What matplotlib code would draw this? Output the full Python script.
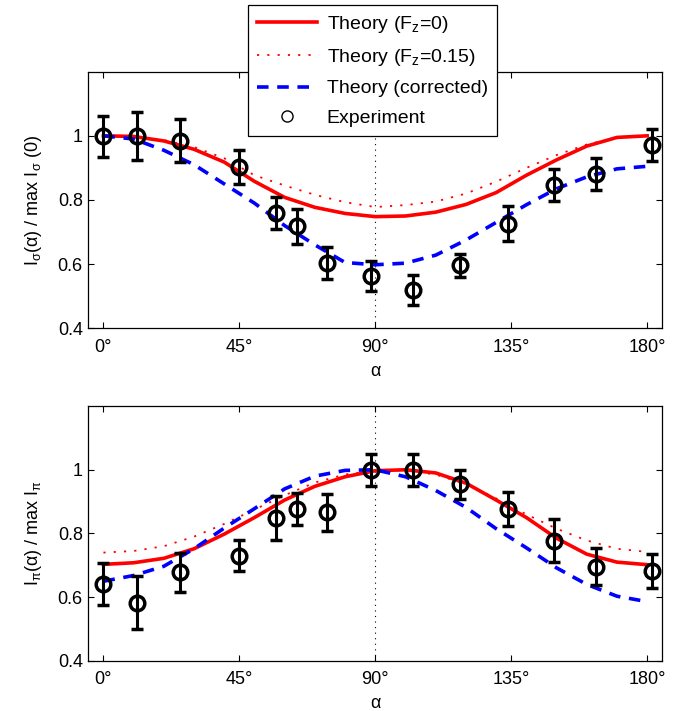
import numpy as np
import matplotlib
matplotlib.use('Agg')
import matplotlib.pyplot as plt
from matplotlib.lines import Line2D

plt.rcParams['font.family'] = ['Liberation Sans', 'DejaVu Sans']
plt.rcParams['mathtext.fontset'] = 'custom'
plt.rcParams['mathtext.rm'] = 'Liberation Sans'
plt.rcParams['mathtext.it'] = 'Liberation Sans:italic'
plt.rcParams['mathtext.default'] = 'regular'

# theory curves, every 10 degrees
alpha_th = [0, 10, 20, 30, 40, 50, 60, 70, 80, 90,
            100, 110, 120, 130, 140, 150, 160, 170, 180]

sig_f0 = [1.000, 0.998, 0.984, 0.958, 0.918, 0.858, 0.808, 0.777, 0.758, 0.748,
          0.750, 0.762, 0.786, 0.823, 0.877, 0.925, 0.968, 0.995, 1.000]
sig_f015 = [1.000, 0.998, 0.987, 0.965, 0.930, 0.877, 0.845, 0.816, 0.793, 0.778,
            0.784, 0.795, 0.820, 0.857, 0.900, 0.940, 0.973, 0.994, 1.000]
sig_corr = [1.000, 0.990, 0.955, 0.910, 0.850, 0.790, 0.720, 0.660, 0.605, 0.598,
            0.603, 0.628, 0.675, 0.730, 0.785, 0.835, 0.872, 0.897, 0.905]

pi_f0 = [0.703, 0.708, 0.722, 0.752, 0.798, 0.850, 0.905, 0.948, 0.978, 0.997,
         1.000, 0.990, 0.958, 0.905, 0.850, 0.785, 0.735, 0.710, 0.702]
pi_f015 = [0.740, 0.745, 0.760, 0.790, 0.830, 0.875, 0.920, 0.960, 0.985, 0.998,
           0.998, 0.985, 0.955, 0.910, 0.860, 0.815, 0.778, 0.752, 0.742]
pi_corr = [0.650, 0.668, 0.697, 0.752, 0.817, 0.878, 0.940, 0.980, 0.998, 1.000,
           0.978, 0.935, 0.882, 0.815, 0.755, 0.692, 0.640, 0.603, 0.586]

# measured points
alpha_exp = [0, 11, 25.5, 45, 57, 64, 74, 88.5, 102.5, 118, 134, 149, 163, 181.5]
sig_exp = [0.998, 1.000, 0.985, 0.903, 0.758, 0.718, 0.604, 0.563, 0.518, 0.597,
           0.726, 0.848, 0.880, 0.972]
sig_err = [0.063, 0.075, 0.066, 0.053, 0.050, 0.054, 0.050, 0.046, 0.047, 0.036,
           0.054, 0.050, 0.050, 0.049]
pi_exp = [0.641, 0.583, 0.678, 0.730, 0.849, 0.877, 0.866, 0.998, 1.000, 0.954,
          0.877, 0.777, 0.695, 0.683]
pi_err = [0.067, 0.084, 0.062, 0.048, 0.070, 0.049, 0.058, 0.050, 0.050, 0.046,
          0.054, 0.067, 0.058, 0.054]

xticks = [0, 45, 90, 135, 180]
xticklabels = ['0°', '45°', '90°', '135°', '180°']
yticks = [0.4, 0.6, 0.8, 1.0]
yticklabels = ['0.4', '0.6', '0.8', '1']

FS = 13
DOT = (0, (1.2, 4.5))
DASH = (0, (3.2, 2.4))


def draw_panel(ax, f0, f015, corr, y, yerr, ylabel):
    ax.axvline(90, color='k', lw=0.8, ls=(0, (1, 4)), zorder=1)
    ax.plot(alpha_th, f0, color='red', lw=2.6, zorder=2)
    ax.plot(alpha_th, f015, color='red', lw=1.3, ls=DOT, zorder=2)
    ax.plot(alpha_th, corr, color='blue', lw=2.6, ls=DASH, zorder=2)
    ax.errorbar(alpha_exp, y, yerr=yerr, fmt='o', color='k', mfc='none',
                mec='k', ms=10.5, mew=2.5, elinewidth=2.2, capsize=4.5,
                capthick=2.2, zorder=3)
    ax.set_xlim(-5, 185)
    ax.set_ylim(0.4, 1.2)
    ax.set_xticks(xticks)
    ax.set_xticklabels(xticklabels)
    ax.set_yticks(yticks)
    ax.set_yticklabels(yticklabels)
    ax.tick_params(direction='in', top=True, right=True, length=4, width=0.8,
                   labelsize=FS)
    ax.tick_params(axis='x', pad=7.5)
    ax.tick_params(axis='y', pad=4)
    for s in ax.spines.values():
        s.set_linewidth(0.9)
    ax.set_xlabel('α', fontsize=FS)
    ax.xaxis.set_label_coords(0.5, -0.135)
    ax.set_ylabel(ylabel, fontsize=FS)
    ax.yaxis.set_label_coords(-0.077, 0.5)


fig = plt.figure(figsize=(6.82, 7.11), dpi=100)
ax1 = fig.add_axes([0.1295, 0.5383, 0.8416, 0.3609])
ax2 = fig.add_axes([0.1295, 0.0705, 0.8416, 0.3584])

draw_panel(ax1, sig_f0, sig_f015, sig_corr, sig_exp, sig_err,
           'I$_{σ}$(α) / max I$_{σ}$ (0)')
draw_panel(ax2, pi_f0, pi_f015, pi_corr, pi_exp, pi_err,
           'I$_{π}$(α) / max I$_{π}$')

handles = [
    Line2D([], [], color='red', lw=2.6),
    Line2D([], [], color='red', lw=1.3, ls=DOT),
    Line2D([], [], color='blue', lw=2.6, ls=DASH),
    Line2D([], [], marker='o', ls='none', mfc='none', mec='k', ms=8, mew=1),
]
labels = ['Theory (F$_z$=0)', 'Theory (F$_z$=0.15)', 'Theory (corrected)',
          'Experiment']
leg = fig.legend(handles, labels, loc='upper center',
                 bbox_to_anchor=(0.546, 0.993), borderaxespad=0,
                 fontsize=14, frameon=True, fancybox=False, edgecolor='k',
                 framealpha=1, handlelength=3.1, labelspacing=0.62,
                 borderpad=0.45, handletextpad=0.5)
leg.get_frame().set_linewidth(0.9)

fig.savefig('out.png', dpi=100)
